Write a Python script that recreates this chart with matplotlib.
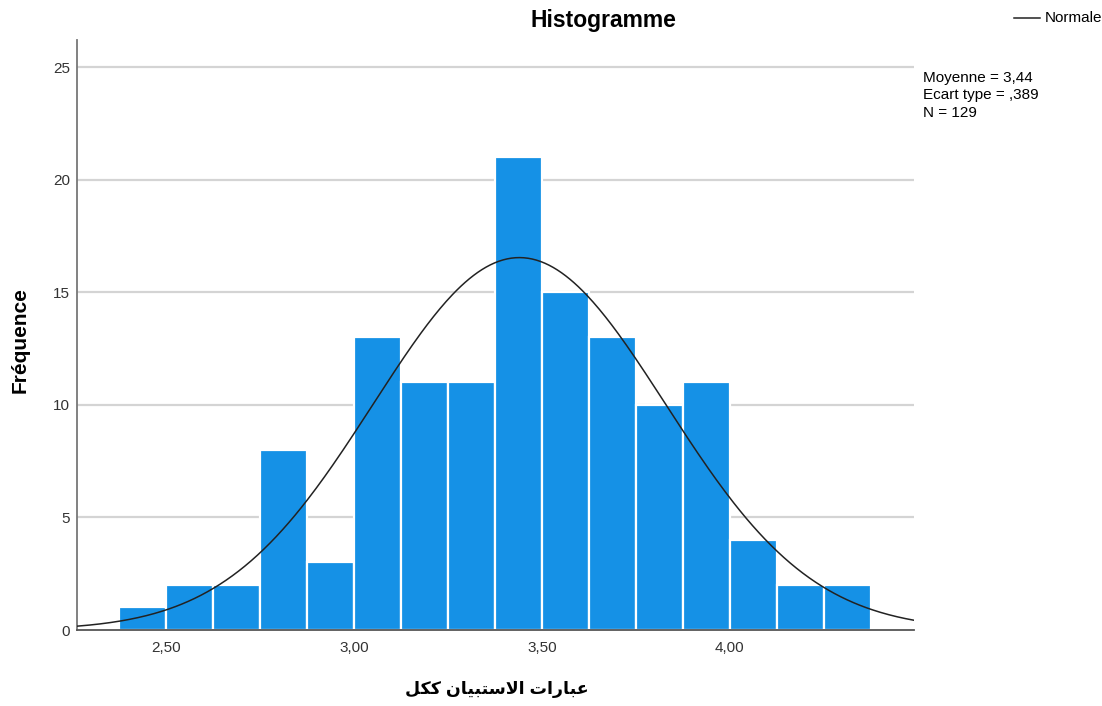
import numpy as np
import matplotlib
matplotlib.use("Agg")
import matplotlib.pyplot as plt

plt.rcParams['font.family'] = ['Liberation Sans', 'DejaVu Sans']

# histogram data (bin width 0.125)
bin_start = 2.375
bin_width = 0.125
counts = [1, 2, 2, 8, 3, 13, 11, 11, 21, 15, 13, 10, 11, 4, 2, 2]
mean = 3.44
std = 0.389
n = 129

xticks = [2.5, 3.0, 3.5, 4.0]
xtick_labels = ["2,50", "3,00", "3,50", "4,00"]
yticks = [0, 5, 10, 15, 20, 25]

# Arabic label, shaped by hand into presentation forms, then reversed for LTR drawing
words = [
    "\uFECB\uFE92\uFE8E\uFEAD\uFE8D\uFE95",
    "\uFE8D\uFEFB\uFEB3\uFE98\uFE92\uFEF4\uFE8E\uFEE5",
    "\uFEDB\uFEDC\uFEDE",
]
xlabel = " ".join(words)[::-1]

edges = bin_start + bin_width * np.arange(len(counts) + 1)

fig = plt.figure(figsize=(11.02, 7.06), dpi=100)
ax = fig.add_axes([77 / 1102, 1 - 630 / 706, (914 - 77) / 1102, (630 - 40) / 706])

ax.set_xlim(2.263, 4.49)
ax.set_ylim(0, 26.2)

for y in yticks[1:]:
    ax.axhline(y, color='#d4d4d4', lw=1.6, zorder=0)

ax.bar(edges[:-1], counts, width=bin_width, align='edge',
       color='#1591e6', edgecolor='white', linewidth=1.6, zorder=2)

xs = np.linspace(2.263, 4.49, 400)
ys = n * bin_width / (std * np.sqrt(2 * np.pi)) * np.exp(-0.5 * ((xs - mean) / std) ** 2)
ax.plot(xs, ys, color='#222222', lw=1.1, zorder=3)

ax.set_xticks(xticks)
ax.set_xticklabels(xtick_labels)
ax.set_yticks(yticks)
ax.tick_params(length=0, labelsize=11, colors='#333333', pad=8)
ax.tick_params(axis='y', pad=5)

for s in ['top', 'right']:
    ax.spines[s].set_visible(False)
ax.spines['left'].set_color('#777777')
ax.spines['bottom'].set_color('#555555')
ax.spines['left'].set_linewidth(1.3)
ax.spines['bottom'].set_linewidth(1.3)

fig.text(603 / 1102, 1 - 20 / 706, "Histogramme", ha='center', va='center',
         fontsize=16.5, fontweight='bold')
fig.text(20 / 1102, 1 - 340 / 706, "Fréquence", ha='center', va='center',
         rotation=90, fontsize=15, fontweight='bold')
fig.text(497 / 1102, 1 - 690 / 706, xlabel, ha='center', va='center',
         fontsize=12.5, fontweight='bold')

# legend and stats box
fig.lines.append(plt.Line2D([1014 / 1102, 1040 / 1102], [1 - 18 / 706, 1 - 18 / 706],
                            transform=fig.transFigure, color='#222222', lw=1.1))
fig.text(1045 / 1102, 1 - 18 / 706, "Normale", ha='left', va='center', fontsize=11)
fig.text(923 / 1102, 1 - 71 / 706, "Moyenne = 3,44\nEcart type = ,389\nN = 129",
         ha='left', va='top', fontsize=11, linespacing=1.3)

fig.savefig("out.png", dpi=100, facecolor='white')
